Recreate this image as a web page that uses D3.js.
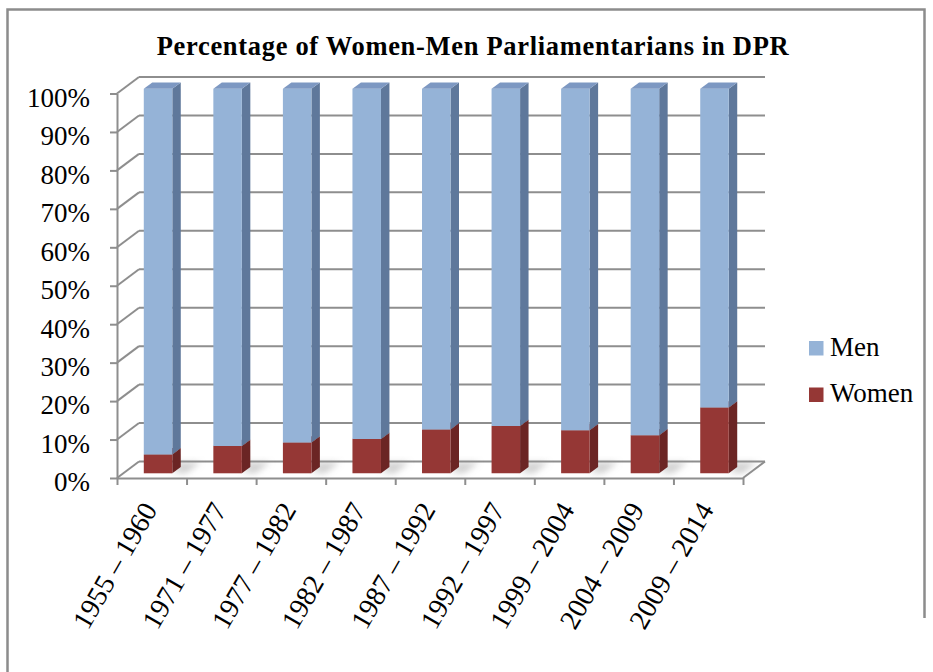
<!DOCTYPE html>
<html>
<head>
<meta charset="utf-8">
<script src="https://cdn.jsdelivr.net/npm/d3@7"></script>
<style>
  html, body { margin: 0; padding: 0; background: #fff; }
  svg { display: block; }
</style>
</head>
<body>
<svg id="chart" width="933" height="672"></svg>
<script>
// ---- data ----
const categories = ["1955 – 1960", "1971 – 1977", "1977 – 1982", "1982 – 1987", "1987 – 1992",
                    "1992 – 1997", "1999 – 2004", "2004 – 2009", "2009 – 2014"];
const women = [4.9, 7.1, 8.0, 8.9, 11.4, 12.3, 11.2, 9.9, 17.1];
const men   = [95.1, 92.9, 92.0, 91.1, 88.6, 87.7, 88.8, 90.1, 82.9];
const yTicks = [0, 10, 20, 30, 40, 50, 60, 70, 80, 90, 100];
const seriesNames = ["Women", "Men"];
const title = "Percentage of Women-Men Parliamentarians in DPR";

// ---- layout ----
const FONT = "'Liberation Serif', 'Times New Roman', serif";
const svg = d3.select("#chart");
const DX = 22, DY = -16.5;          // depth offset of back wall
const zf = 0.285, zb = 0.67;        // bar front/back depth
const x0 = 117, x1 = 743;

const x = d3.scaleBand().domain(categories).range([x0, x1]).paddingInner(0.59).paddingOuter(0.295);
const xEdge = d3.scaleLinear().domain([0, categories.length]).range([x0, x1]);
const y = d3.scaleLinear().domain([0, 100]).range([478, 93.5]);
const P = (px, v, z) => [px + z * DX, y(v) + z * DY];
const poly = pts => "M" + pts.map(p => p.join(",")).join("L") + "Z";

const colors = {
  Women: { front: "#953735", side: "#6b2524", top: "#7c2c2b" },
  Men:   { front: "#95b3d7", side: "#5f789b", top: "#7d98c2" }
};
const gridColor = "#8e8e8e";

// Border
svg.append("path").attr("d", "M7.5,672V9.5H924.5V618").attr("fill", "none")
  .attr("stroke", "#8c8c8c").attr("stroke-width", 2.5);

// Title
const tt = svg.append("text").attr("x", 473).attr("y", 55).attr("text-anchor", "middle")
  .attr("font-family", FONT).attr("font-weight", "bold").attr("font-size", 26.5)
  .attr("fill", "#000").text(title);
const tw = tt.node().getComputedTextLength();
tt.attr("letter-spacing", Math.max(0, (632 - tw) / (title.length - 1)));

// Back wall gridlines and left wall diagonals
const grid = svg.append("g").attr("stroke", gridColor).attr("stroke-width", 2).attr("fill", "none");
grid.selectAll("line.back").data(yTicks).join("line").attr("class", "back")
  .attr("x1", d => P(x0, d, 1)[0]).attr("y1", d => P(x0, d, 1)[1])
  .attr("x2", d => P(x1, d, 1)[0]).attr("y2", d => P(x1, d, 1)[1]);
grid.selectAll("line.side").data(yTicks).join("line").attr("class", "side")
  .attr("x1", d => P(x0, d, 0)[0]).attr("y1", d => P(x0, d, 0)[1])
  .attr("x2", d => P(x0, d, 1)[0]).attr("y2", d => P(x0, d, 1)[1]);
// floor right edge
grid.append("path").attr("d", "M" + P(x1, 0, 0).join(",") + "L" + P(x1, 0, 1).join(","));

// Floor shadows
const defs = svg.append("defs");
defs.append("filter").attr("id", "blur").attr("x", "-50%").attr("y", "-50%").attr("width", "200%").attr("height", "200%")
  .append("feGaussianBlur").attr("stdDeviation", 3);
svg.append("g").attr("filter", "url(#blur)").selectAll("path").data(categories).join("path")
  .attr("d", c => {
    const xl = x(c), xr = x(c) + x.bandwidth();
    return poly([P(xr, 0, zf), P(xr + 14, 0, zf), P(xr + 14, 0, 0.95), P(xl + 10, 0, 0.95), P(xl + 10, 0, zb), P(xr, 0, zb)]);
  })
  .attr("fill", "#9a9a9a").attr("opacity", 0.45);

// Front value axis
const yAxis = d3.axisLeft(y).tickValues(yTicks).tickFormat(d => d + "%")
  .tickSize(7).tickSizeOuter(0).tickPadding(20);
const ya = svg.append("g").attr("transform", `translate(${x0},0)`).call(yAxis);
ya.attr("font-family", FONT);
ya.select(".domain").attr("stroke", gridColor).attr("stroke-width", 2);
ya.selectAll(".tick line").attr("stroke", gridColor).attr("stroke-width", 2);
ya.selectAll(".tick text").attr("font-family", FONT).attr("font-size", 27)
  .attr("fill", "#000").attr("dy", 12.8).attr("x", -27);

// Category axis (front floor edge)
const xAxis = d3.axisBottom(xEdge).tickValues(d3.range(categories.length + 1))
  .tickFormat("").tickSize(7).tickSizeOuter(0);
const xa = svg.append("g").attr("transform", `translate(0,${y(0)})`).call(xAxis);
xa.select(".domain").attr("stroke", gridColor).attr("stroke-width", 2);
xa.selectAll(".tick line").attr("stroke", gridColor).attr("stroke-width", 2);

svg.append("g").selectAll("text").data(categories).join("text")
  .attr("transform", c => `translate(${xEdge(categories.indexOf(c) + 0.5) - 2},505) rotate(-60)`)
  .attr("text-anchor", "end").attr("dominant-baseline", "central")
  .attr("font-family", FONT).attr("font-size", 28).attr("fill", "#000")
  .text(c => c);

// Bars (stacked)
const rows = categories.map((c, i) => ({ cat: c, Women: women[i], Men: men[i] }));
const stack = d3.stack().keys(seriesNames)(rows);
const barsG = svg.append("g");
rows.forEach((row, i) => {
  const g = barsG.append("g");
  stack.forEach(s => {
    const [v0, v1] = s[i];
    const xl = x(row.cat), xr = xl + x.bandwidth();
    const c = colors[s.key];
    g.append("path").attr("d", poly([P(xr, v0, zf), P(xr, v1, zf), P(xr, v1, zb), P(xr, v0, zb)]))
      .attr("fill", c.side);
    g.append("path").attr("d", poly([P(xl, v0, zf), P(xr, v0, zf), P(xr, v1, zf), P(xl, v1, zf)]))
      .attr("fill", c.front);
    g.append("path").attr("d", poly([P(xl, v1, zf), P(xr, v1, zf), P(xr, v1, zb), P(xl, v1, zb)]))
      .attr("fill", c.top);
  });
});

// Legend
const legendItems = ["Men", "Women"];
const lg = svg.append("g").selectAll("g").data(legendItems).join("g")
  .attr("transform", (d, i) => `translate(809,${341 + i * 46.5})`);
lg.append("rect").attr("width", 14.5).attr("height", 14.5).attr("fill", d => colors[d].front);
lg.append("text").attr("x", 21).attr("y", 14.5).attr("font-family", FONT)
  .attr("font-size", 27).attr("fill", "#000").text(d => d);
</script>
</body>
</html>
